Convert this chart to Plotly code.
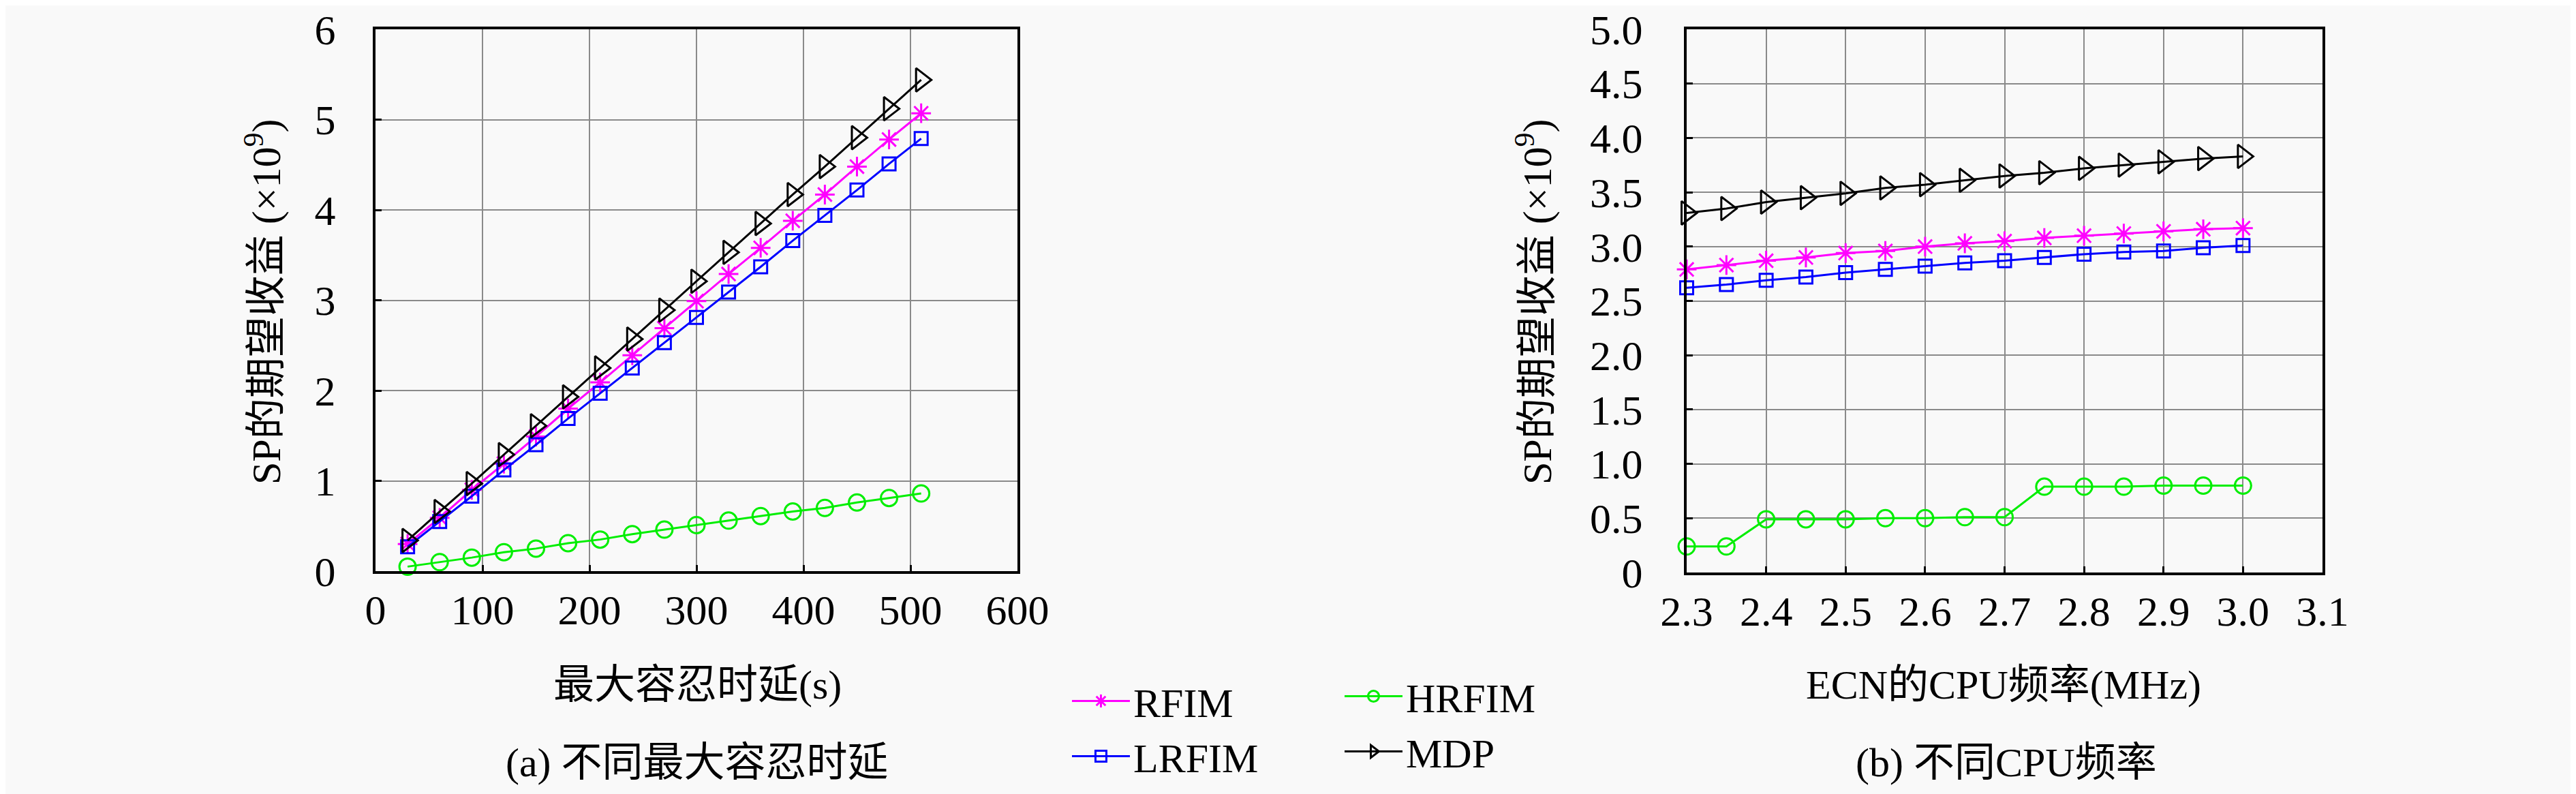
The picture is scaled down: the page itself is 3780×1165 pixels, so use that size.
import plotly.graph_objects as go

# (a) max tolerable delay (s)
delay_s = [30, 60, 90, 120, 150, 180, 210, 240, 270, 300, 330, 360, 390, 420, 450, 480, 510]
rfim_a = [0.30, 0.59, 0.90, 1.19, 1.49, 1.80, 2.09, 2.39, 2.69, 2.99, 3.29, 3.58, 3.88, 4.17, 4.48, 4.78, 5.07]
lrfim_a = [0.27, 0.55, 0.83, 1.12, 1.40, 1.69, 1.97, 2.25, 2.53, 2.81, 3.09, 3.37, 3.66, 3.94, 4.22, 4.51, 4.79]
hrfim_a = [0.05, 0.10, 0.15, 0.21, 0.25, 0.31, 0.35, 0.41, 0.46, 0.51, 0.56, 0.61, 0.66, 0.70, 0.76, 0.81, 0.86]
mdp_a = [0.34, 0.66, 0.97, 1.29, 1.61, 1.93, 2.25, 2.57, 2.89, 3.21, 3.53, 3.85, 4.17, 4.48, 4.80, 5.12, 5.44]

# (b) ECN CPU frequency (MHz)
cpu_mhz = [2.30, 2.35, 2.40, 2.45, 2.50, 2.55, 2.60, 2.65, 2.70, 2.75, 2.80, 2.85, 2.90, 2.95, 3.00]
rfim_b = [2.79, 2.83, 2.87, 2.90, 2.94, 2.96, 3.00, 3.03, 3.05, 3.08, 3.10, 3.12, 3.14, 3.16, 3.17]
lrfim_b = [2.62, 2.65, 2.69, 2.72, 2.76, 2.79, 2.82, 2.85, 2.87, 2.90, 2.93, 2.95, 2.96, 2.99, 3.01]
hrfim_b = [0.24, 0.24, 0.49, 0.49, 0.49, 0.50, 0.50, 0.51, 0.51, 0.79, 0.79, 0.79, 0.80, 0.80, 0.80]
mdp_b = [3.31, 3.35, 3.41, 3.45, 3.49, 3.54, 3.57, 3.61, 3.65, 3.68, 3.72, 3.75, 3.78, 3.81, 3.83]

yticks_b = [0, 0.5, 1.0, 1.5, 2.0, 2.5, 3.0, 3.5, 4.0, 4.5, 5.0]
yticks_b_text = ["0", "0.5", "1.0", "1.5", "2.0", "2.5", "3.0", "3.5", "4.0", "4.5", "5.0"]
xticks_b = [2.3, 2.4, 2.5, 2.6, 2.7, 2.8, 2.9, 3.0, 3.1]
xticks_b_text = ["2.3", "2.4", "2.5", "2.6", "2.7", "2.8", "2.9", "3.0", "3.1"]

LATIN = '"Liberation Serif", "Times New Roman", serif'
FONT = '"Liberation Serif", "Times New Roman", "Noto Sans CJK SC", serif'
W, H = 3780, 1165

series = [
    # name, color, symbol, size, legend group, data (a), data (b)
    ("RFIM", "#ff00ff", "asterisk-open", 24, "legend", rfim_a, rfim_b),
    ("LRFIM", "#0000ff", "square-open", 19, "legend", lrfim_a, lrfim_b),
    ("HRFIM", "#00ee00", "circle-open", 24, "legend2", hrfim_a, hrfim_b),
    ("MDP", "#000000", "triangle-right-open", 30, "legend2", mdp_a, mdp_b),
]

fig = go.Figure()
for name, color, symbol, size, leg, ya, yb in series:
    style = dict(
        mode="lines+markers",
        line=dict(color=color, width=3),
        marker=dict(symbol=symbol, size=size, color=color, line=dict(width=3, color=color)),
        cliponaxis=False,
    )
    fig.add_trace(go.Scatter(x=delay_s, y=ya, name=name, legend=leg,
                             xaxis="x", yaxis="y", **style))
    fig.add_trace(go.Scatter(x=cpu_mhz, y=yb, name=name, showlegend=False,
                             xaxis="x2", yaxis="y2", **style))


def px_x(p):
    return p / W


def px_y(p):
    return (H - p) / H


axis_common = dict(
    showline=True, linecolor="black", linewidth=4, mirror=True,
    showgrid=True, gridcolor="#8a8a8a", gridwidth=2,
    ticks="inside", ticklen=9, tickwidth=3, tickcolor="black",
    zeroline=False,
    tickfont=dict(family=LATIN, size=62, color="black"),
)

fig.update_layout(
    width=W, height=H,
    margin=dict(l=0, r=0, t=0, b=0, autoexpand=False),
    paper_bgcolor="#f9f9f9",
    plot_bgcolor="#f9f9f9",
    font=dict(family=FONT, size=60, color="black"),
    xaxis=dict(domain=[px_x(543), px_x(1485)], range=[0, 600], dtick=100,
               anchor="y", ticklabelstandoff=0, **axis_common),
    yaxis=dict(domain=[px_y(830), px_y(35)], range=[0, 6], dtick=1,
               anchor="x", ticklabelstandoff=42, **axis_common),
    xaxis2=dict(domain=[px_x(2467), px_x(3400)], range=[2.3, 3.1],
                tickvals=xticks_b, ticktext=xticks_b_text,
                anchor="y2", ticklabelstandoff=0, **axis_common),
    yaxis2=dict(domain=[px_y(832), px_y(35)], range=[0, 5],
                tickvals=yticks_b, ticktext=yticks_b_text,
                anchor="x2", ticklabelstandoff=48, **axis_common),
    legend=dict(x=px_x(1560), y=px_y(975), xanchor="left", yanchor="top",
                bgcolor="rgba(0,0,0,0)", font=dict(family=LATIN, size=60),
                tracegroupgap=0, itemwidth=85),
    legend2=dict(x=px_x(1960), y=px_y(968), xanchor="left", yanchor="top",
                 bgcolor="rgba(0,0,0,0)", font=dict(family=LATIN, size=60),
                 tracegroupgap=0, itemwidth=85),
)

ann = dict(xref="paper", yref="paper", showarrow=False,
           xanchor="center", yanchor="middle",
           font=dict(family=FONT, size=60, color="black"))
fig.add_annotation(text="最大容忍时延(s)", x=px_x(1015), y=px_y(997), **ann)
fig.add_annotation(text="(a) 不同最大容忍时延", x=px_x(1015), y=px_y(1111), **ann)
fig.add_annotation(text="ECN的CPU频率(MHz)", x=px_x(2932), y=px_y(997), **ann)
fig.add_annotation(text="(b) 不同CPU频率", x=px_x(2936), y=px_y(1111), **ann)
fig.add_annotation(text="SP的期望收益 (×10<sup>9</sup>)", textangle=-90,
                   x=px_x(378), y=px_y(435), **ann)
fig.add_annotation(text="SP的期望收益 (×10<sup>9</sup>)", textangle=-90,
                   x=px_x(2243), y=px_y(435), **ann)

fig.write_html("out.html")
